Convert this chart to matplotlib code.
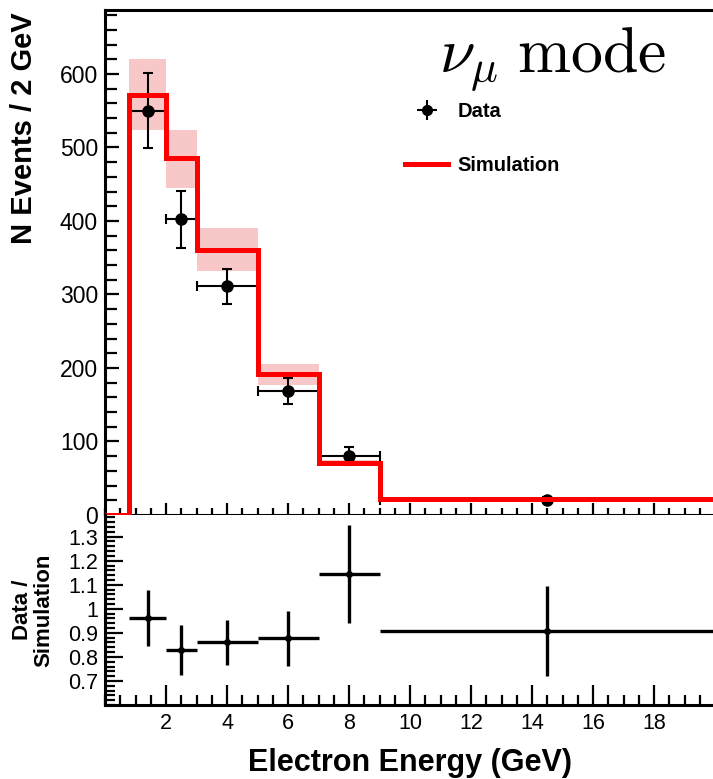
import matplotlib
matplotlib.use("Agg")
import matplotlib.pyplot as plt
import numpy as np
from matplotlib.ticker import MultipleLocator, FixedLocator, FixedFormatter

plt.rcParams['font.family'] = ['Liberation Sans', 'DejaVu Sans']
plt.rcParams['mathtext.fontset'] = 'cm'

# ---------------- data ----------------
sim_edges = [0, 0.8, 2, 3, 5, 7, 9, 20]
sim_counts = [0, 572, 486, 361, 192, 71, 22]
band_lo = [0, 524, 445, 332, 177, 67, 20]
band_hi = [0, 620, 524, 390, 206, 75, 24]

data_x = [1.4, 2.5, 4, 6, 8, 14.5]
data_y = [550, 402, 311, 169, 80, 20]
data_yerr = [51, 39, 24, 18, 12, 4]
data_xlo = [0.8, 2, 3, 5, 7, 9]
data_xhi = [2, 3, 5, 7, 9, 20]

ratio_y = [0.96, 0.83, 0.86, 0.88, 1.145, 0.909]
ratio_lo = [0.845, 0.725, 0.767, 0.763, 0.94, 0.72]
ratio_hi = [1.079, 0.933, 0.954, 0.99, 1.35, 1.096]

x_ticks = [2, 4, 6, 8, 10, 12, 14, 16, 18]
y_ticks_top = [0, 100, 200, 300, 400, 500, 600]
y_ticks_ratio = [0.7, 0.8, 0.9, 1.0, 1.1, 1.2, 1.3]
y_ticklabels_ratio = ['0.7', '0.8', '0.9', '1', '1.1', '1.2', '1.3']

# ---------------- figure ----------------
W, H = 713, 779
fig = plt.figure(figsize=(W / 100, H / 100), dpi=100)

def px_axes(left, top, right, bottom):
    return [left / W, 1 - bottom / H, (right - left) / W, (bottom - top) / H]

ax = fig.add_axes(px_axes(105, 10, 715, 515))
axr = fig.add_axes(px_axes(105, 515, 715, 705), sharex=ax)

red = '#ff0000'
band_col = '#f8c8c8'

edges = np.array(sim_edges)
widths = np.diff(edges)
ax.bar(edges[:-1], np.array(band_hi) - np.array(band_lo), bottom=band_lo,
       width=widths, align='edge', color=band_col, edgecolor='none', zorder=1)

dx = np.array(data_x)
xerr = [dx - np.array(data_xlo), np.array(data_xhi) - dx]
ax.errorbar(data_x, data_y, yerr=data_yerr, xerr=xerr, fmt='o', color='black',
            ms=8, elinewidth=1.5, capsize=3.5, capthick=1.5, zorder=2)

ax.stairs(sim_counts, sim_edges, color=red, lw=3.6, zorder=3)

# legend proxies
eb_proxy = ax.errorbar([np.nan], [np.nan], xerr=[1], yerr=[1], fmt='o', color='black',
                       ms=7, elinewidth=1.5, capsize=0, label='Data')
sim_proxy, = ax.plot([], [], color=red, lw=3.6, label='Simulation')
leg = ax.legend(handles=[eb_proxy, sim_proxy], loc='upper left',
                bbox_to_anchor=(0.492, 0.818), frameon=False,
                prop={'weight': 'bold', 'size': 14.5}, handlelength=2.15,
                handletextpad=0.45, labelspacing=1.75, borderpad=0, borderaxespad=0)

ax.text(0.547, 0.876, r'$\nu_{\mu}\;\mathrm{mode}$', transform=ax.transAxes,
        fontsize=46, ha='left', va='baseline')

ax.set_xlim(0, 20)
ax.set_ylim(0, 687)
ax.set_yticks(y_ticks_top)
ax.yaxis.set_minor_locator(MultipleLocator(20))
ax.xaxis.set_major_locator(FixedLocator(x_ticks))
ax.xaxis.set_minor_locator(MultipleLocator(0.5))
ax.tick_params(axis='x', which='both', direction='in', labelbottom=False, width=1.6)
ax.tick_params(axis='x', which='major', length=9)
ax.tick_params(axis='x', which='minor', length=4.8)
ax.tick_params(axis='y', which='both', direction='in', width=1.6, labelsize=16.5, pad=5)
ax.tick_params(axis='y', which='major', length=10)
ax.tick_params(axis='y', which='minor', length=8.4)
ax.set_ylabel('N Events / 2 GeV', fontsize=21, fontweight='bold', loc='top')
ax.yaxis.set_label_coords(-0.11, 0.995)
for s in ['left', 'bottom', 'top']:
    ax.spines[s].set_linewidth(2.2)
ax.spines['right'].set_visible(False)

# ratio panel
rx = np.array(data_x)
ry = np.array(ratio_y)
rxerr = [rx - np.array(data_xlo), np.array(data_xhi) - rx]
ryerr = [ry - np.array(ratio_lo), np.array(ratio_hi) - ry]
axr.errorbar(data_x, ratio_y, xerr=rxerr, yerr=ryerr, fmt='o', color='black',
             ms=4, elinewidth=2.4, capsize=0)
axr.set_ylim(0.6, 1.39)
axr.yaxis.set_major_locator(FixedLocator(y_ticks_ratio))
axr.yaxis.set_major_formatter(FixedFormatter(y_ticklabels_ratio))
axr.yaxis.set_minor_locator(MultipleLocator(0.02))
axr.xaxis.set_major_locator(FixedLocator(x_ticks))
axr.xaxis.set_minor_locator(MultipleLocator(0.5))
axr.tick_params(axis='both', which='both', direction='in', width=1.6)
axr.tick_params(axis='x', which='major', length=14.4, labelsize=15.5, pad=6)
axr.tick_params(axis='x', which='minor', length=7.2)
axr.tick_params(axis='y', which='major', length=13, labelsize=15.5, pad=5)
axr.tick_params(axis='y', which='minor', length=7.2)
axr.set_xlim(0, 20)
axr.set_ylabel('Data /\nSimulation', fontsize=16, fontweight='bold', linespacing=1.0)
axr.yaxis.set_label_coords(-0.083, 0.5)
axr.set_xlabel('Electron Energy (GeV)', fontsize=22, fontweight='bold', labelpad=10)
for s in ['left', 'bottom']:
    axr.spines[s].set_linewidth(2.2)
axr.spines['right'].set_visible(False)
axr.spines['top'].set_visible(False)

fig.savefig('out.png', dpi=100)
